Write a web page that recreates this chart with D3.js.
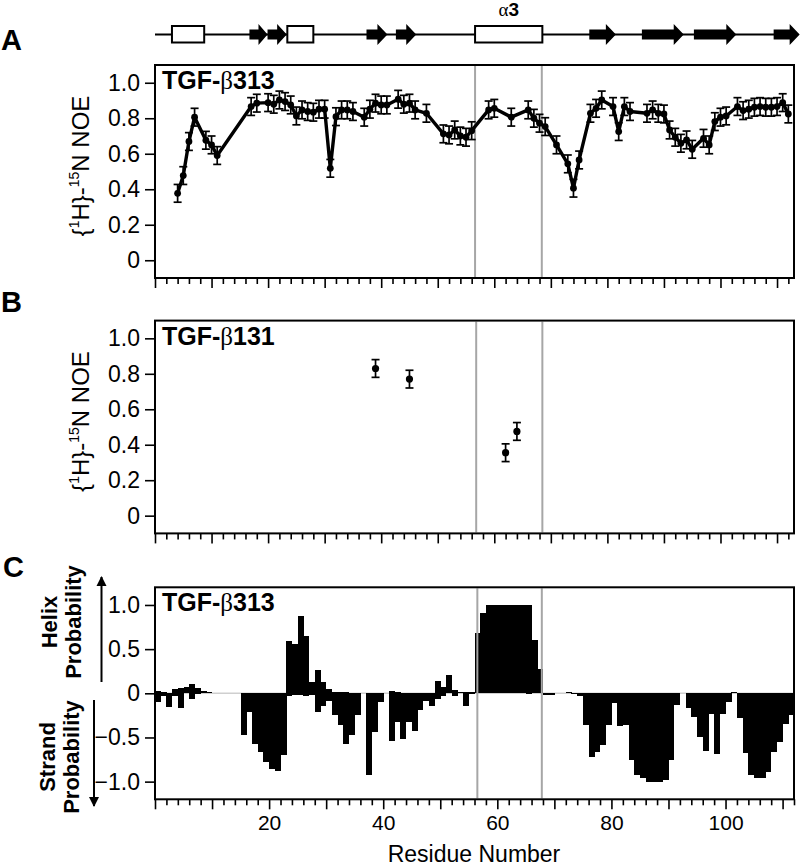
<!DOCTYPE html>
<html><head><meta charset="utf-8">
<script src="https://cdn.jsdelivr.net/npm/d3@7/dist/d3.min.js"></script>
<style>
body{margin:0;background:#fff;}
svg text{font-family:"Liberation Sans",Arial,Helvetica,sans-serif;fill:#000;}
</style></head><body>
<svg id="chart" width="800" height="866" xmlns="http://www.w3.org/2000/svg"></svg>
<script>
// ---------------- DATA ----------------
// Panel A: {1H}-15N NOE of TGF-β313
const noeResidues313 = [4,5,6,7,9,10,11,17,18,20,21,22,23,24,25,26,27,28,29,30,31,32,33,34,35,37,38,39,40,41,43,44,45,46,48,51,52,53,54,55,56,59,60,63,66,67,68,69,71,73,74,75,77,78,79,81,82,83,84,87,88,89,90,91,92,93,94,95,97,98,99,100,101,103,104,105,106,107,108,109,110,111,112];
const noeValues313 = [0.377,0.477,0.669,0.806,0.676,0.650,0.590,0.866,0.885,0.888,0.879,0.903,0.894,0.875,0.813,0.847,0.838,0.834,0.851,0.851,0.518,0.809,0.847,0.847,0.838,0.806,0.851,0.885,0.875,0.875,0.907,0.879,0.885,0.847,0.828,0.712,0.706,0.734,0.700,0.693,0.730,0.847,0.856,0.806,0.847,0.800,0.772,0.753,0.650,0.543,0.406,0.565,0.828,0.856,0.903,0.866,0.725,0.866,0.838,0.828,0.847,0.828,0.824,0.734,0.693,0.659,0.678,0.625,0.687,0.650,0.781,0.806,0.813,0.866,0.843,0.851,0.862,0.866,0.862,0.862,0.866,0.888,0.824];
const noeErrors313 = [0.05,0.05,0.05,0.05,0.05,0.05,0.05,0.05,0.05,0.05,0.05,0.05,0.05,0.05,0.05,0.05,0.05,0.05,0.05,0.05,0.05,0.05,0.05,0.05,0.05,0.05,0.05,0.05,0.05,0.05,0.05,0.05,0.05,0.05,0.05,0.05,0.05,0.05,0.05,0.05,0.05,0.05,0.05,0.05,0.05,0.05,0.05,0.05,0.05,0.05,0.05,0.05,0.05,0.05,0.05,0.05,0.05,0.05,0.05,0.05,0.05,0.05,0.05,0.05,0.05,0.05,0.05,0.05,0.05,0.05,0.05,0.05,0.05,0.05,0.05,0.05,0.05,0.05,0.05,0.05,0.05,0.05,0.05];

// Panel B: {1H}-15N NOE of TGF-β131
const noeResidues131 = [39,45,62,64];
const noeValues131 = [0.83,0.77,0.355,0.475];
const noeErrors131 = [0.05,0.05,0.05,0.05];

// Panel C: helix (positive) and strand (negative) probability, residues 1..112
const helixProb = [0.03,0.01,0,0.05,0.06,0.07,0.11,0.06,0.03,0.02,
  0,0,0,0,0,0,0,0,0,0,
  0,0,0,0.59,0.56,0.88,0.65,0.13,0.26,0.13,
  0.05,0.02,0.01,0.01,0,0,0,0,0,0,
  0,0.03,0.01,0,0,0,0,0,0,0.14,
  0.07,0.21,0.04,0.01,0.02,0.01,0.68,0.91,1.0,1.0,
  1.0,1.0,1.0,1.0,1.0,1.0,0.60,0.27,0,0,
  0,0,0.02,0,0,0,0,0,0,0,
  0,0,0,0,0,0,0,0,0,0,
  0,0,0,0,0,0,0,0,0,0,
  0,0.01,0,0,0,0,0,0,0,0,
  0,0];
const strandProb = [0.10,0.03,0.16,0.03,0.17,0,0.06,0.01,0,0,
  0,0,0,0,0,0.47,0.21,0.57,0.66,0.78,
  0.86,0.88,0.70,0.03,0.02,0.02,0.03,0.02,0.21,0.14,
  0.09,0.24,0.36,0.57,0.47,0.24,0,0.92,0.44,0.10,
  0,0.54,0.33,0.52,0.33,0.43,0.19,0.09,0.14,0.06,
  0.03,0,0.03,0,0.14,0.01,0,0,0,0,
  0,0,0,0,0,0.01,0,0,0.02,0.02,
  0,0,0,0.01,0.03,0.36,0.72,0.67,0.58,0.36,
  0.11,0.37,0.36,0.75,0.93,0.96,1.0,1.0,1.0,0.98,
  0.75,0.13,0,0.17,0.27,0.49,0.65,0.23,0.69,0.23,
  0.10,0,0.28,0.68,0.93,0.96,0.96,0.89,0.66,0.55,
  0.35,0.24];
const barResidues = helixProb.map((_, i) => i + 1);

// Secondary structure diagram (residue ranges)
const ssTypes  = ["helix","strand","strand","helix","strand","strand","helix","strand","strand","strand","strand"];
const ssStarts = [3.0, 16.7, 19.9, 23.4, 37.4, 42.6, 56.6, 76.8, 86.1, 95.3, 109.4];
const ssEnds   = [8.7, 19.9, 23.3, 28.0, 41.1, 46.2, 68.5, 81.5, 93.5, 102.8, 114.0];
const ssLabels = ["","","","","","","α3","","","",""];

// Helix α3 boundaries (grey lines) per panel
const boundsA = [56.6, 68.4];
const boundsB = [56.8, 68.5];
const boundsC = [56.5, 67.8];

// Axes
const xDomainNOE = [0, 113];
const xDomainSS = [0, 112];
const noeTicks = [0, 0.2, 0.4, 0.6, 0.8, 1.0];
const probTicks = [-1.0, -0.5, 0, 0.5, 1.0];
const xLabelTicks = [20, 40, 60, 80, 100];

// ---------------- DRAWING ----------------
const svg = d3.select("#chart");
const L = 155, R = 794;
const panels = {
  A: {top: 65, bottom: 278},
  B: {top: 320.6, bottom: 533.4},
  C: {top: 587.3, bottom: 799.3}
};
const xN = d3.scaleLinear().domain(xDomainNOE).range([L, R]);
const xS = d3.scaleLinear().domain(xDomainSS).range([L, R]);
const yA = d3.scaleLinear().domain([-0.1, 1.1]).range([panels.A.bottom, panels.A.top]);
const yB = d3.scaleLinear().domain([-0.1, 1.1]).range([panels.B.bottom, panels.B.top]);
const yC = d3.scaleLinear().domain([-1.2, 1.2]).range([panels.C.bottom, panels.C.top]);

const fmt = d => d === 0 ? "0" : d3.format(".1f")(d);
const evenTicks = d3.range(0, 113, 2);

function xTicks(g, x, bottom, labels) {
  const minor = evenTicks.filter(t => t % 10 !== 0 && t <= x.domain()[1]);
  const major = evenTicks.filter(t => t % 10 === 0 && t <= x.domain()[1]);
  const gm = g.append("g").attr("transform", `translate(0,${bottom})`)
    .call(d3.axisBottom(x).tickValues(minor).tickSize(6).tickFormat(""));
  const gM = g.append("g").attr("transform", `translate(0,${bottom})`)
    .call(d3.axisBottom(x).tickValues(major).tickSize(10).tickPadding(6)
      .tickFormat(d => labels && xLabelTicks.includes(d) ? d : ""));
  [gm, gM].forEach(a => {
    a.select(".domain").remove();
    a.selectAll(".tick line").attr("stroke", "#000").attr("stroke-width", 1.6);
    a.selectAll("text").attr("font-size", 21).attr("fill", "#000")
      .style("font-family", '"Liberation Sans",Arial,sans-serif');
  });
}
function yAxis(g, y, ticks) {
  const a = g.append("g").attr("transform", `translate(${L},0)`)
    .call(d3.axisLeft(y).tickValues(ticks).tickSize(10).tickPadding(5).tickFormat(fmt));
  a.select(".domain").remove();
  a.selectAll(".tick line").attr("stroke", "#000").attr("stroke-width", 1.6);
  a.selectAll("text").attr("font-size", 23).attr("fill", "#000")
    .style("font-family", '"Liberation Sans",Arial,sans-serif');
}
function frame(g, p) {
  g.append("rect").attr("x", L).attr("y", p.top).attr("width", R - L).attr("height", p.bottom - p.top)
    .attr("fill", "none").attr("stroke", "#000").attr("stroke-width", 2);
}
function greyLines(g, x, bounds, p) {
  g.selectAll(null).data(bounds).enter().append("line")
    .attr("x1", d => x(d)).attr("x2", d => x(d)).attr("y1", p.top + 1).attr("y2", p.bottom - 1)
    .attr("stroke", "#a6a6a6").attr("stroke-width", 2);
}
function panelTitle(g, p, num) {
  const t = g.append("text").attr("x", 162).attr("y", p.top + 24).attr("font-size", 25).attr("font-weight", "bold");
  t.append("tspan").text("TGF-");
  t.append("tspan").attr("font-weight", "normal").style("font-family", '"Liberation Serif","Times New Roman",serif').text("β");
  t.append("tspan").text(num);
}
function panelLetter(txt, x, y) {
  svg.append("text").attr("x", x).attr("y", y).attr("font-size", 29).attr("font-weight", "bold").text(txt);
}
function noeTitle(cy) {
  const t = svg.append("text").attr("transform", `translate(89,${cy}) rotate(-90)`)
    .attr("text-anchor", "middle").attr("font-size", 24);
  t.append("tspan").text("{");
  t.append("tspan").attr("font-size", 14).attr("dy", -10).text("1");
  t.append("tspan").attr("dy", 10).text("H}-");
  t.append("tspan").attr("font-size", 14).attr("dy", -10).text("15");
  t.append("tspan").attr("dy", 10).text("N NOE");
}
function errorPoints(g, x, y, res, vals, errs) {
  const pts = res.map((d, i) => ({x: d, y: vals[i], e: errs[i]}));
  const eb = g.append("g").attr("stroke", "#000").attr("stroke-width", 1.7);
  pts.forEach(d => {
    eb.append("line").attr("x1", x(d.x)).attr("x2", x(d.x)).attr("y1", y(d.y - d.e)).attr("y2", y(d.y + d.e));
    eb.append("line").attr("x1", x(d.x) - 4).attr("x2", x(d.x) + 4).attr("y1", y(d.y - d.e)).attr("y2", y(d.y - d.e));
    eb.append("line").attr("x1", x(d.x) - 4).attr("x2", x(d.x) + 4).attr("y1", y(d.y + d.e)).attr("y2", y(d.y + d.e));
  });
  return pts;
}

// ---- Secondary structure diagram ----
const ss = svg.append("g");
const ssY = 34.5;
ss.append("line").attr("x1", xN(0)).attr("x2", xN(113.5)).attr("y1", ssY).attr("y2", ssY)
  .attr("stroke", "#000").attr("stroke-width", 2);
ssTypes.forEach((t, i) => {
  const x0 = xN(ssStarts[i]), x1 = xN(ssEnds[i]);
  if (t === "helix") {
    ss.append("rect").attr("x", x0).attr("y", ssY - 8.5).attr("width", x1 - x0).attr("height", 16.5)
      .attr("fill", "#fff").attr("stroke", "#000").attr("stroke-width", 2);
    if (ssLabels[i]) {
      const lt = ss.append("text").attr("x", (x0 + x1) / 2).attr("y", 16).attr("text-anchor", "middle").attr("font-size", 19);
      lt.append("tspan").style("font-family", '"Liberation Serif",serif').text(ssLabels[i].slice(0, 1));
      lt.append("tspan").attr("font-weight", "bold").text(ssLabels[i].slice(1));
    }
  } else {
    const hl = Math.min(10, (x1 - x0) * 0.5);
    const p = d3.path();
    p.moveTo(x0, ssY - 5); p.lineTo(x1 - hl, ssY - 5); p.lineTo(x1 - hl, ssY - 10.5);
    p.lineTo(x1, ssY); p.lineTo(x1 - hl, ssY + 10.5); p.lineTo(x1 - hl, ssY + 5); p.lineTo(x0, ssY + 5); p.closePath();
    ss.append("path").attr("d", p.toString()).attr("fill", "#000");
  }
});

// ---- Panel A ----
const gA = svg.append("g");
greyLines(gA, xN, boundsA, panels.A);
const ptsA = errorPoints(gA, xN, yA, noeResidues313, noeValues313, noeErrors313);
gA.append("path").datum(ptsA).attr("fill", "none").attr("stroke", "#000").attr("stroke-width", 3.4)
  .attr("stroke-linejoin", "round").attr("d", d3.line().x(d => xN(d.x)).y(d => yA(d.y)));
gA.selectAll(null).data(ptsA).enter().append("circle")
  .attr("cx", d => xN(d.x)).attr("cy", d => yA(d.y)).attr("r", 3.4).attr("fill", "#000");
frame(gA, panels.A);
yAxis(gA, yA, noeTicks);
xTicks(gA, xN, panels.A.bottom, false);
panelTitle(gA, panels.A, "313");
panelLetter("A", 1, 50);
noeTitle(166);

// ---- Panel B ----
const gB = svg.append("g");
greyLines(gB, xN, boundsB, panels.B);
const ptsB = errorPoints(gB, xN, yB, noeResidues131, noeValues131, noeErrors131);
gB.selectAll(null).data(ptsB).enter().append("circle")
  .attr("cx", d => xN(d.x)).attr("cy", d => yB(d.y)).attr("r", 3.6).attr("fill", "#000");
frame(gB, panels.B);
yAxis(gB, yB, noeTicks);
xTicks(gB, xN, panels.B.bottom, false);
panelTitle(gB, panels.B, "131");
panelLetter("B", 1, 312);
noeTitle(421.5);

// ---- Panel C ----
const gC = svg.append("g");
gC.append("line").attr("x1", L).attr("x2", R).attr("y1", yC(0)).attr("y2", yC(0))
  .attr("stroke", "#cfcfcf").attr("stroke-width", 1.5);
const bars = gC.append("g").attr("shape-rendering", "crispEdges");
bars.selectAll(".h").data(barResidues.filter((r, i) => helixProb[i] > 0)).enter().append("rect")
  .attr("x", r => xS(r - 1)).attr("width", r => xS(r) - xS(r - 1) + 0.3)
  .attr("y", r => yC(helixProb[r - 1])).attr("height", r => yC(0) - yC(helixProb[r - 1]))
  .attr("fill", "#000");
bars.selectAll(".s").data(barResidues.filter((r, i) => strandProb[i] > 0)).enter().append("rect")
  .attr("x", r => xS(r - 1)).attr("width", r => xS(r) - xS(r - 1) + 0.3)
  .attr("y", yC(0)).attr("height", r => yC(-strandProb[r - 1]) - yC(0))
  .attr("fill", "#000");
greyLines(gC, xS, boundsC, panels.C);
frame(gC, panels.C);
yAxis(gC, yC, probTicks);
xTicks(gC, xS, panels.C.bottom, true);
panelTitle(gC, panels.C, "313");
panelLetter("C", 3, 577);

// C y-axis titles and arrows
function rotLines(lines, x0, cy) {
  lines.forEach((s, i) => {
    svg.append("text").attr("transform", `translate(${x0 + i * 24},${cy}) rotate(-90)`)
      .attr("text-anchor", "middle").attr("font-size", 22).attr("font-weight", "bold").text(s);
  });
}
rotLines(["Helix", "Probability"], 57, 622);
rotLines(["Strand", "Probability"], 55, 757);
const defs = svg.append("defs");
defs.append("marker").attr("id", "ah").attr("viewBox", "0 0 10 10").attr("refX", 9).attr("refY", 5)
  .attr("markerWidth", 5).attr("markerHeight", 6).attr("orient", "auto-start-reverse")
  .attr("markerUnits", "strokeWidth")
  .append("path").attr("d", "M0,0 L10,5 L0,10 z").attr("fill", "#000");
svg.append("line").attr("x1", 101.5).attr("x2", 101.5).attr("y1", 682).attr("y2", 577)
  .attr("stroke", "#000").attr("stroke-width", 2).attr("marker-end", "url(#ah)");
svg.append("line").attr("x1", 94).attr("x2", 94).attr("y1", 700).attr("y2", 806)
  .attr("stroke", "#000").attr("stroke-width", 2).attr("marker-end", "url(#ah)");

// x-axis title
svg.append("text").attr("x", 474).attr("y", 862).attr("text-anchor", "middle").attr("font-size", 23).text("Residue Number");
</script>
</body></html>
